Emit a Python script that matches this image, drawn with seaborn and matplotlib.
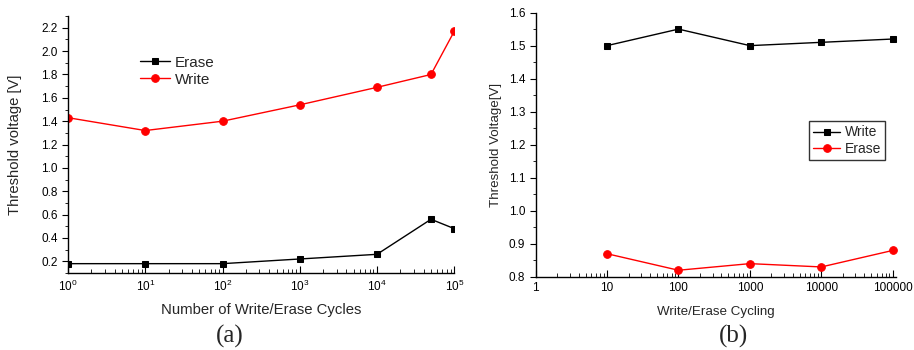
import numpy as np
import pandas as pd
import matplotlib.pyplot as plt
import matplotlib.ticker as mticker
import seaborn as sns

# panel (a)
cycles_a = [1, 10, 100, 1000, 10000, 50000, 100000]
erase_a = [0.18, 0.18, 0.18, 0.22, 0.26, 0.56, 0.48]
write_a = [1.43, 1.32, 1.40, 1.54, 1.69, 1.80, 2.17]

# panel (b)
cycles_b = [10, 100, 1000, 10000, 100000]
write_b = [1.50, 1.55, 1.50, 1.51, 1.52]
erase_b = [0.87, 0.82, 0.84, 0.83, 0.88]

sns.set_style("ticks")
plt.rcParams['font.family'] = ['Liberation Sans', 'DejaVu Sans']

fig = plt.figure(figsize=(9.14, 3.5), dpi=100)
ax1 = fig.add_axes([0.0744, 0.22, 0.4226, 0.734])
ax2 = fig.add_axes([0.586, 0.209, 0.394, 0.755])

df_a = pd.DataFrame({'cycles': cycles_a, 'Erase': erase_a, 'Write': write_a})
df_b = pd.DataFrame({'cycles': cycles_b, 'Write': write_b, 'Erase': erase_b})

# --- (a)
sns.lineplot(data=df_a, x='cycles', y='Erase', ax=ax1, color='black', marker='s',
             markersize=5, markeredgecolor='black', lw=1, label='Erase')
sns.lineplot(data=df_a, x='cycles', y='Write', ax=ax1, color='red', marker='o',
             markersize=5.5, markeredgecolor='red', lw=1, label='Write')
ax1.set_xscale('log')
ax1.set_xlim(1, 1e5)
ax1.set_ylim(0.1, 2.3)
ax1.yaxis.set_major_locator(mticker.MultipleLocator(0.2))
ax1.yaxis.set_minor_locator(mticker.MultipleLocator(0.1))
ax1.yaxis.set_major_formatter(mticker.FormatStrFormatter('%.1f'))
ax1.xaxis.set_major_locator(mticker.LogLocator(base=10, numticks=10))
ax1.xaxis.set_minor_locator(mticker.LogLocator(base=10, subs=np.arange(2, 10), numticks=20))
ax1.xaxis.set_minor_formatter(mticker.NullFormatter())
ax1.tick_params(axis='x', which='both', direction='in', labelsize=8.5, pad=4)
ax1.tick_params(axis='x', which='major', length=5)
ax1.tick_params(axis='x', which='minor', length=3)
ax1.tick_params(axis='y', which='both', direction='out', labelsize=8.5)
ax1.tick_params(axis='y', which='major', length=4)
ax1.tick_params(axis='y', which='minor', length=2.5)
ax1.set_xlabel('Number of Write/Erase Cycles', fontsize=10.7, labelpad=7)
ax1.set_ylabel('Threshold voltage [V]', fontsize=10.7, labelpad=14)
ax1.legend(loc='upper left', bbox_to_anchor=(0.15, 0.9), frameon=False, fontsize=11,
           handlelength=2.0, handletextpad=0.3, labelspacing=0.2)
sns.despine(ax=ax1)

# --- (b)
sns.lineplot(data=df_b, x='cycles', y='Write', ax=ax2, color='black', marker='s',
             markersize=5, markeredgecolor='black', lw=1, label='Write', clip_on=False)
sns.lineplot(data=df_b, x='cycles', y='Erase', ax=ax2, color='red', marker='o',
             markersize=5.5, markeredgecolor='red', lw=1, label='Erase', clip_on=False)
ax2.set_xscale('log')
ax2.set_xlim(1, 1.1e5)
ax2.set_ylim(0.8, 1.6)
ax2.yaxis.set_major_locator(mticker.MultipleLocator(0.1))
ax2.yaxis.set_minor_locator(mticker.MultipleLocator(0.05))
ax2.yaxis.set_major_formatter(mticker.FormatStrFormatter('%.1f'))
ax2.xaxis.set_major_locator(mticker.LogLocator(base=10, numticks=10))
ax2.xaxis.set_major_formatter(mticker.FuncFormatter(lambda v, p: '%d' % round(v)))
ax2.xaxis.set_minor_locator(mticker.LogLocator(base=10, subs=np.arange(2, 10), numticks=20))
ax2.xaxis.set_minor_formatter(mticker.NullFormatter())
ax2.tick_params(axis='x', which='both', direction='in', labelsize=8.5, pad=4)
ax2.tick_params(axis='x', which='major', length=5)
ax2.tick_params(axis='x', which='minor', length=3)
ax2.tick_params(axis='y', which='both', direction='out', labelsize=8.5)
ax2.tick_params(axis='y', which='major', length=4)
ax2.tick_params(axis='y', which='minor', length=2.5)
ax2.set_xlabel('Write/Erase Cycling', fontsize=9.6, labelpad=8)
ax2.set_ylabel('Threshold Voltage[V]', fontsize=9.6, labelpad=5)
leg = ax2.legend(loc='center right', bbox_to_anchor=(0.99, 0.515), frameon=True, fontsize=10,
                 handlelength=2.0, handletextpad=0.3, labelspacing=0.2, fancybox=False,
                 borderpad=0.3)
leg.get_frame().set_edgecolor('black')
leg.get_frame().set_linewidth(1)
sns.despine(ax=ax2)

for ax in (ax1, ax2):
    for s in ('left', 'bottom'):
        ax.spines[s].set_color('black')
        ax.spines[s].set_linewidth(1)
    ax.tick_params(colors='black', which='both')

fig.text(230 / 914, 1 - 336 / 350, '(a)', ha='center', va='center',
         fontsize=18, family='Liberation Serif')
fig.text(733 / 914, 1 - 336 / 350, '(b)', ha='center', va='center',
         fontsize=18, family='Liberation Serif')

fig.savefig('out.png', dpi=100)
